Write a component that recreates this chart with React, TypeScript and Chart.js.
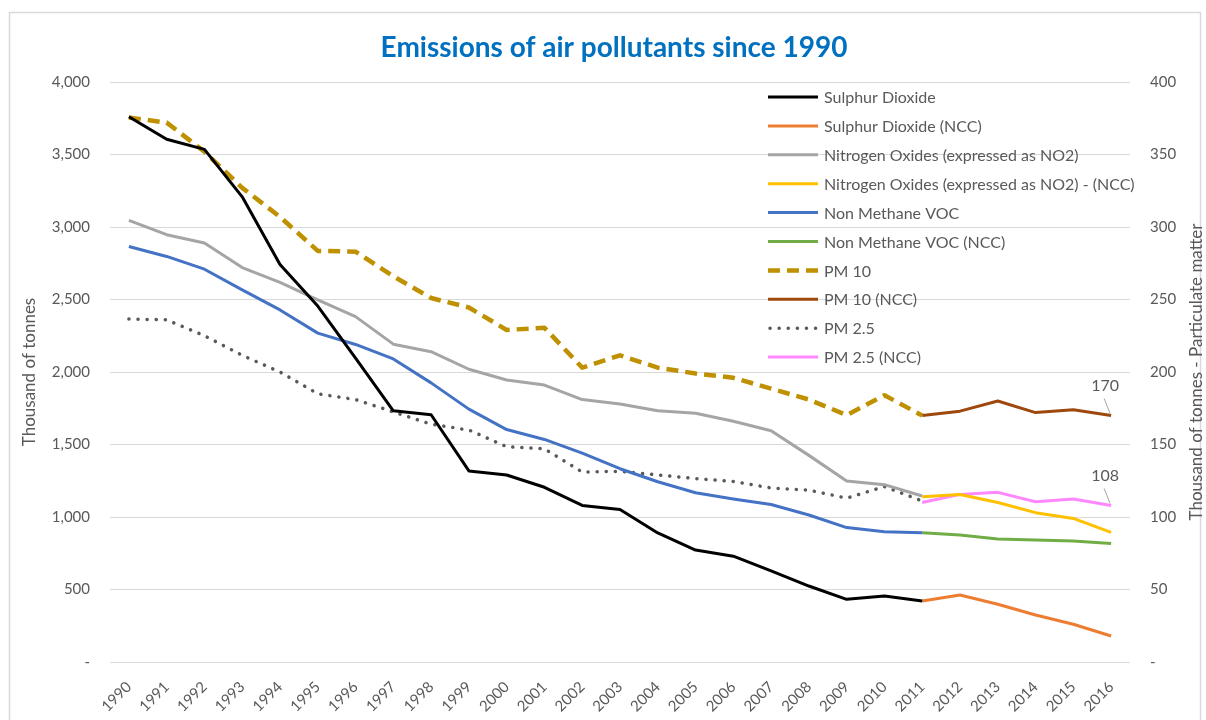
import React, { useEffect, useRef } from "react";
import { Chart, registerables } from "chart.js";

Chart.register(...registerables);

const years = [
  "1990", "1991", "1992", "1993", "1994", "1995", "1996", "1997", "1998", "1999",
  "2000", "2001", "2002", "2003", "2004", "2005", "2006", "2007", "2008", "2009",
  "2010", "2011", "2012", "2013", "2014", "2015", "2016",
];

// 1990–2011 (left axis, thousand tonnes)
const sulphurDioxide = [3760, 3605, 3535, 3208, 2742, 2455, 2095, 1732, 1705, 1318, 1290, 1205, 1080, 1052, 890, 772, 730, 628, 524, 432, 455, 420];
const nitrogenOxides = [3046, 2947, 2890, 2720, 2618, 2497, 2382, 2192, 2140, 2019, 1945, 1910, 1810, 1779, 1733, 1716, 1660, 1595, 1425, 1248, 1223, 1145];
const nonMethaneVoc = [2866, 2797, 2709, 2566, 2428, 2268, 2190, 2090, 1925, 1744, 1603, 1535, 1440, 1333, 1243, 1167, 1124, 1086, 1014, 927, 898, 892];
// 2011–2016 (NCC, left axis)
const sulphurDioxideNcc = [420, 462, 398, 324, 260, 179];
const nitrogenOxidesNcc = [1140, 1155, 1100, 1030, 990, 894];
const nonMethaneVocNcc = [892, 876, 848, 841, 834, 818];
// 1990–2011 (right axis, particulate matter)
const pm10 = [375.5, 372, 352, 327, 307, 283.5, 283, 266, 251, 244.5, 229, 230.5, 203, 211.5, 203, 199, 196, 188.5, 181, 170.3, 184, 170];
const pm25 = [236.5, 236, 225, 211.5, 200, 185, 181, 172.5, 164, 160, 148.5, 147, 131, 131.5, 129, 126.5, 124.5, 120, 118.5, 113, 121, 111];
// 2011–2016 (NCC, right axis)
const pm10Ncc = [170, 173, 180, 172, 174, 170];
const pm25Ncc = [110, 115.6, 117, 110.5, 112.4, 108];

const leftTicks = { min: 0, max: 4000, step: 500 };
const rightTicks = { min: 0, max: 400, step: 50 };

const titleText = "Emissions of air pollutants since 1990";
const leftAxisTitle = "Thousand of tonnes";
const rightAxisTitle = "Thousand of tonnes - Particulate matter";

const FONT = "Lato, 'Open Sans', sans-serif";
const TEXT = "#595959";
const GRID = "#D9D9D9";

const place = (arr: number[], startYear: string) => {
  const s = years.indexOf(startYear);
  return years.map((_, i) => (i >= s && i - s < arr.length ? arr[i - s] : null));
};

type Series = {
  label: string;
  data: (number | null)[];
  color: string;
  width: number;
  dash: number[];
  cap: CanvasLineCap;
  axis: string;
  endLabel?: boolean;
};

const series: Series[] = [
  { label: "Sulphur Dioxide", data: place(sulphurDioxide, "1990"), color: "#000000", width: 3, dash: [], cap: "butt", axis: "y" },
  { label: "Sulphur Dioxide (NCC)", data: place(sulphurDioxideNcc, "2011"), color: "#ED7D31", width: 3, dash: [], cap: "butt", axis: "y" },
  { label: "Nitrogen Oxides (expressed as NO2)", data: place(nitrogenOxides, "1990"), color: "#A5A5A5", width: 3, dash: [], cap: "butt", axis: "y" },
  { label: "Nitrogen Oxides (expressed as NO2) - (NCC)", data: place(nitrogenOxidesNcc, "2011"), color: "#FFC000", width: 3, dash: [], cap: "butt", axis: "y" },
  { label: "Non Methane VOC", data: place(nonMethaneVoc, "1990"), color: "#4472C4", width: 3, dash: [], cap: "butt", axis: "y" },
  { label: "Non Methane VOC (NCC)", data: place(nonMethaneVocNcc, "2011"), color: "#70AD47", width: 3, dash: [], cap: "butt", axis: "y" },
  { label: "PM 10", data: place(pm10, "1990"), color: "#BF9000", width: 4.5, dash: [12, 7], cap: "butt", axis: "y1" },
  { label: "PM 10 (NCC)", data: place(pm10Ncc, "2011"), color: "#9E480E", width: 3, dash: [], cap: "butt", axis: "y1", endLabel: true },
  { label: "PM 2.5", data: place(pm25, "1990"), color: "#595959", width: 3.5, dash: [0.1, 9], cap: "round", axis: "y1" },
  { label: "PM 2.5 (NCC)", data: place(pm25Ncc, "2011"), color: "#FF88FF", width: 3, dash: [], cap: "butt", axis: "y1", endLabel: true },
];

const fmt = (v: number) => (v === 0 ? "-" : v.toLocaleString("en-US"));

const overlay = {
  id: "overlay",
  beforeDraw(chart: any) {
    const { ctx, width, height } = chart;
    ctx.save();
    ctx.fillStyle = "#ffffff";
    ctx.fillRect(0, 0, width, height);
    ctx.strokeStyle = "#D9D9D9";
    ctx.lineWidth = 1.5;
    ctx.strokeRect(9.5, 12.5, 1191, height + 10);
    ctx.restore();
  },
  afterDraw(chart: any) {
    const { ctx, chartArea } = chart;
    ctx.save();
    // Title
    ctx.fillStyle = "#0070C0";
    ctx.font = `bold 28px ${FONT}`;
    ctx.textAlign = "center";
    ctx.textBaseline = "alphabetic";
    ctx.fillText(titleText, 614, 57);

    // Axis titles
    ctx.fillStyle = TEXT;
    ctx.font = `17px ${FONT}`;
    ctx.textBaseline = "middle";
    const midY = (chartArea.top + chartArea.bottom) / 2;
    ctx.save();
    ctx.translate(30, midY);
    ctx.rotate(-Math.PI / 2);
    ctx.fillText(leftAxisTitle, 0, 0);
    ctx.restore();
    ctx.save();
    ctx.translate(1197, midY);
    ctx.rotate(-Math.PI / 2);
    ctx.fillText(rightAxisTitle, 0, 0);
    ctx.restore();

    // Legend
    const lx0 = 768, lx1 = 818, tx = 824, ly0 = 97, step = 28.9;
    ctx.font = `16px ${FONT}`;
    ctx.textAlign = "left";
    series.forEach((s, i) => {
      const y = ly0 + i * step;
      ctx.beginPath();
      ctx.strokeStyle = s.color;
      ctx.lineWidth = s.width;
      ctx.lineCap = s.cap;
      ctx.setLineDash(s.dash);
      ctx.moveTo(s.cap === "round" ? lx0 + 2 : lx0, y);
      ctx.lineTo(lx1, y);
      ctx.stroke();
      ctx.setLineDash([]);
      ctx.fillStyle = TEXT;
      ctx.fillText(s.label, tx, y + 1);
    });

    // End labels with leader lines
    ctx.lineCap = "butt";
    series.forEach((s, i) => {
      if (!s.endLabel) return;
      const meta = chart.getDatasetMeta(i);
      const last = s.data.length - 1;
      const pt = meta.data[last];
      const v = s.data[last] as number;
      ctx.beginPath();
      ctx.strokeStyle = "#A6A6A6";
      ctx.lineWidth = 1;
      ctx.moveTo(pt.x - 7, pt.y - 17);
      ctx.lineTo(pt.x - 1, pt.y - 2);
      ctx.stroke();
      ctx.fillStyle = TEXT;
      ctx.font = `16px ${FONT}`;
      ctx.textAlign = "center";
      ctx.textBaseline = "middle";
      ctx.fillText(String(v), pt.x - 6, pt.y - 30);
    });
    ctx.restore();
  },
};

export default function App() {
  const ref = useRef<HTMLCanvasElement | null>(null);
  useEffect(() => {
    if (!ref.current) return;
    const chart = new Chart(ref.current, {
      type: "line",
      data: {
        labels: years,
        datasets: series.map((s) => ({
          label: s.label,
          data: s.data,
          borderColor: s.color,
          backgroundColor: s.color,
          borderWidth: s.width,
          borderDash: s.dash,
          borderCapStyle: s.cap,
          borderJoinStyle: "round",
          pointRadius: 0,
          pointHoverRadius: 0,
          tension: 0,
          fill: false,
          spanGaps: false,
          yAxisID: s.axis,
        })),
      },
      options: {
        responsive: false,
        animation: false,
        events: [],
        layout: { padding: { top: 82, left: 0, right: 0, bottom: 0 } },
        plugins: {
          legend: { display: false },
          title: { display: false },
          tooltip: { enabled: false },
        },
        scales: {
          x: {
            offset: true,
            grid: { display: false },
            border: { display: false },
            ticks: {
              autoSkip: false,
              minRotation: 45,
              maxRotation: 45,
              color: TEXT,
              font: { family: FONT, size: 15 },
              padding: 8,
            },
            afterFit: (scale: any) => {
              scale.height = 58;
            },
          },
          y: {
            position: "left",
            min: leftTicks.min,
            max: leftTicks.max,
            grid: { color: GRID, lineWidth: 1, drawTicks: false },
            border: { display: false },
            ticks: {
              stepSize: leftTicks.step,
              color: TEXT,
              font: { family: FONT, size: 15 },
              padding: 20,
              callback: (v: any) => fmt(Number(v)),
            },
            afterFit: (scale: any) => {
              scale.width = 110;
            },
          },
          y1: {
            position: "right",
            min: rightTicks.min,
            max: rightTicks.max,
            grid: { display: false, drawTicks: false },
            border: { display: false },
            ticks: {
              stepSize: rightTicks.step,
              color: TEXT,
              font: { family: FONT, size: 15 },
              padding: 20,
              callback: (v: any) => fmt(Number(v)),
            },
            afterFit: (scale: any) => {
              scale.width = 76;
            },
          },
        },
      } as any,
      plugins: [overlay],
    });
    return () => chart.destroy();
  }, []);

  return (
    <div style={{ position: "absolute", left: 0, top: 0, width: 1206, height: 720 }}>
      <canvas ref={ref} width={1206} height={720} style={{ display: "block" }} />
    </div>
  );
}
